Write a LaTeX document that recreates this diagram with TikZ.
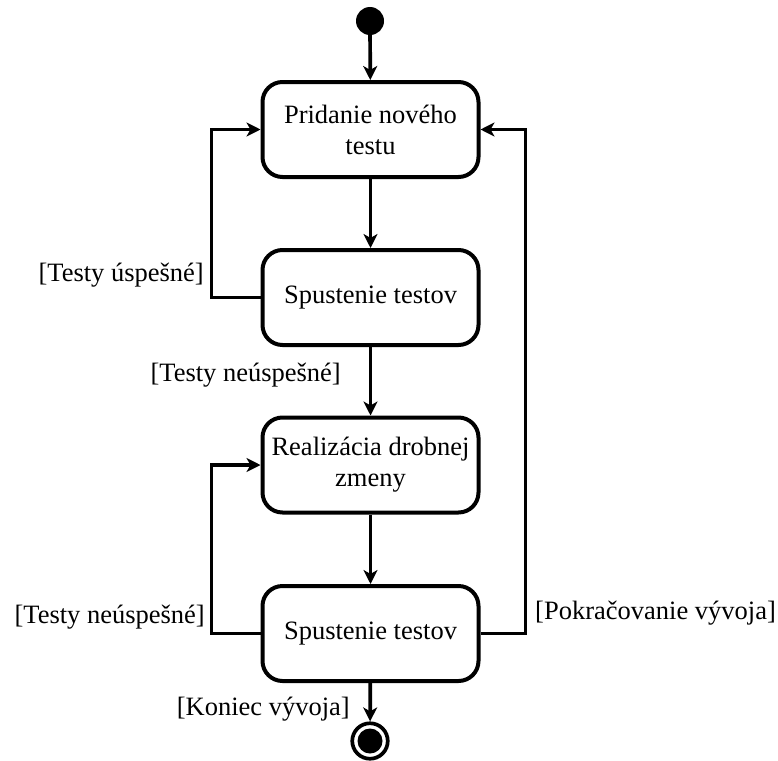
\documentclass[tikz,border=0pt]{standalone}
\usepackage{fontspec}
\setmainfont{Liberation Serif}
\usetikzlibrary{arrows.meta}
\begin{document}
\begin{tikzpicture}[x=1pt,y=-1pt,
  state/.style={draw, line width=4pt, rounded corners=20pt,
    minimum width=216pt, minimum height=95pt, align=center,
    font=\fontsize{26.5}{31}\selectfont, inner sep=0pt},
  flow/.style={line width=3.7pt, -{Stealth[length=14pt,width=14pt,inset=4pt]}},
  guard/.style={font=\fontsize{26.5}{31}\selectfont, inner sep=0pt}]
\useasboundingbox (0,0) rectangle (778,760);

% initial and final states
\node[circle, fill, inner sep=0pt, minimum size=28pt] (start) at (370,21) {};
\node[circle, draw, line width=3.7pt, inner sep=0pt, minimum size=35.5pt] (end) at (370,741) {};
\node[circle, fill, inner sep=0pt, minimum size=25pt] (endcore) at (end.center) {};

% activities
\node[state] (add)  at (370.5,129.5) {Pridanie nového\\testu};
\node[state] (run1) at (370.5,297.5) {Spustenie testov};
\node[state] (impl) at (370.5,465)   {Realizácia drobnej\\zmeny};
\node[state] (run2) at (370.5,633.5) {Spustenie testov};

% main flow
\draw[flow] (start) -- (add);
\draw[flow] (add) -- (run1);
\draw[flow] (run1) -- (impl);
\draw[flow] (impl) -- (run2);
\draw[flow] (run2) -- (end);

% loops
\draw[flow] (run1.west) -- ++(-49,0) |- (add.west);
\draw[flow] (run2.west) -- ++(-49,0) |- (impl.west);
\draw[flow] (run2.east) -- ++(45,0) |- (add.east);

% guards
\node[guard, anchor=base east] (g1) at (204,281) {[Testy úspešné]};
\node[guard, anchor=base east] (g2) at (341,381) {[Testy neúspešné]};
\node[guard, anchor=base east] (g3) at (205,623) {[Testy neúspešné]};
\node[guard, anchor=base west] (g4) at (535,619) {[Pokračovanie vývoja]};
\node[guard, anchor=base east] (g5) at (350,715) {[Koniec vývoja]};
\end{tikzpicture}
\end{document}
